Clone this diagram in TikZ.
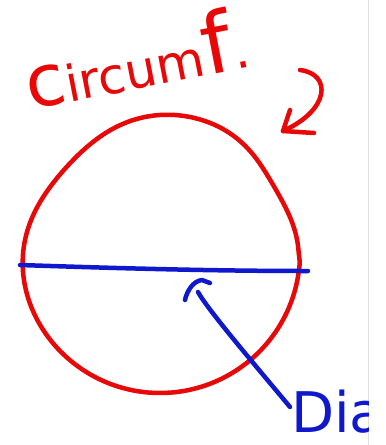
\documentclass[tikz,border=0pt]{standalone}
\usepackage{fontspec}
\setmainfont{DejaVu Sans}
\definecolor{penred}{RGB}{232,8,8}
\definecolor{penblue}{RGB}{16,24,205}
\begin{document}
\begin{tikzpicture}[x=1pt,y=-1pt,
  declare function={rr(\t)=140-13*exp(-((\t-138)/35)*((\t-138)/35))-8*exp(-((\t-30)/22)*((\t-30)/22));},
  redpen/.style={draw=penred,line width=4.5pt,line cap=round,line join=round},
  bluepen/.style={draw=penblue,line width=4.5pt,line cap=round,line join=round},
  handtext/.style={anchor=base west,inner sep=0pt,font=\fontsize{50}{60}\selectfont}]
\useasboundingbox (0,0) rectangle (386,445);
\fill[white] (0,0) rectangle (386,445);
\draw[black!12,line width=0.8pt] (368,0) -- (368,445);
% circumference
\draw[redpen] plot[domain=0:356,samples=90,smooth cycle] ({160+rr(\x)*cos(\x)},{253-rr(\x)*sin(\x)});
% diameter
\coordinate (dL) at (20,265);
\coordinate (dR) at (308,271);
\draw[bluepen] (dL) .. controls (110,268) and (210,271) .. (dR);
% label circumf.
\node[handtext,text=penred,rotate=11] (circ) at (30,110) {{\fontsize{72}{72}\selectfont c}ircum{\fontsize{84}{84}\selectfont f}.};
\coordinate (ca) at (300,70);
\coordinate (cb) at (283,131);
\draw[redpen] (ca) .. controls (332,74) and (330,110) .. (cb);
\draw[redpen] (290,110) -- (cb) -- (314,133);
% label Dia
\begin{scope}
\clip (0,0) rectangle (368,445);
\node[handtext,text=penblue,font=\fontsize{56}{60}\selectfont] (dia) at (291,432) {Dia};
\end{scope}
\coordinate (ps) at (290,407);
\coordinate (pt) at (198,292);
\draw[bluepen] (ps) .. controls (255,365) and (208,310) .. (pt);
\draw[bluepen] (185,300) .. controls (187,291) and (193,281) .. (202,280) -- (210,283);
\end{tikzpicture}
\end{document}
